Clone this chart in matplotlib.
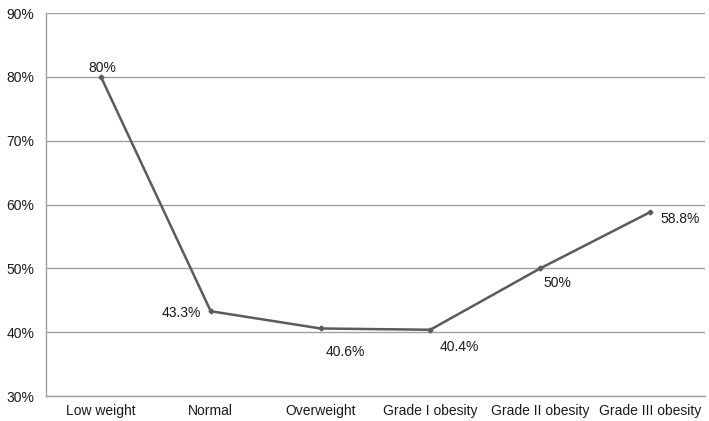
import matplotlib.pyplot as plt
from matplotlib.ticker import FuncFormatter

categories = ["Low weight", "Normal", "Overweight", "Grade I obesity",
              "Grade II obesity", "Grade III obesity"]
values = [80, 43.3, 40.6, 40.4, 50, 58.8]
value_labels = ["80%", "43.3%", "40.6%", "40.4%", "50%", "58.8%"]
y_ticks = [30, 40, 50, 60, 70, 80, 90]

# label offsets in pixels from each point
label_offsets = [(1, 9), (-29, -2), (25, -24), (29, -17), (17, -15), (30, -7)]

plt.rcParams["font.family"] = ["Liberation Sans", "DejaVu Sans"]

fig = plt.figure(figsize=(7.09, 4.21), dpi=100)
ax = fig.add_axes([0.065, 0.059, 0.929, 0.91])

x = list(range(len(categories)))
ax.plot(x, values, color="#5b5b5b", linewidth=1.8, marker="D", markersize=2.5,
        zorder=3)

for xi, v, lab, off in zip(x, values, value_labels, label_offsets):
    ax.annotate(lab, (xi, v), xytext=off, textcoords="offset pixels",
                ha="center", va="center", fontsize=10, color="#1a1a1a")

ax.set_xlim(-0.5, len(categories) - 0.5)
ax.set_ylim(30, 90)
ax.set_yticks(y_ticks)
ax.yaxis.set_major_formatter(FuncFormatter(lambda v, _: f"{v:.0f}%"))
ax.set_xticks(x)
ax.set_xticklabels(categories)
ax.tick_params(length=0, labelsize=10, colors="#1a1a1a")
ax.tick_params(axis="x", pad=5.5)
ax.tick_params(axis="y", pad=8.5)

ax.grid(axis="y", color="#a0a0a0", linewidth=1)
ax.set_axisbelow(True)
for side in ["top", "right"]:
    ax.spines[side].set_visible(False)
for side in ["left", "bottom"]:
    ax.spines[side].set_color("#a0a0a0")
    ax.spines[side].set_linewidth(1)

fig.savefig("out.png", dpi=100)
